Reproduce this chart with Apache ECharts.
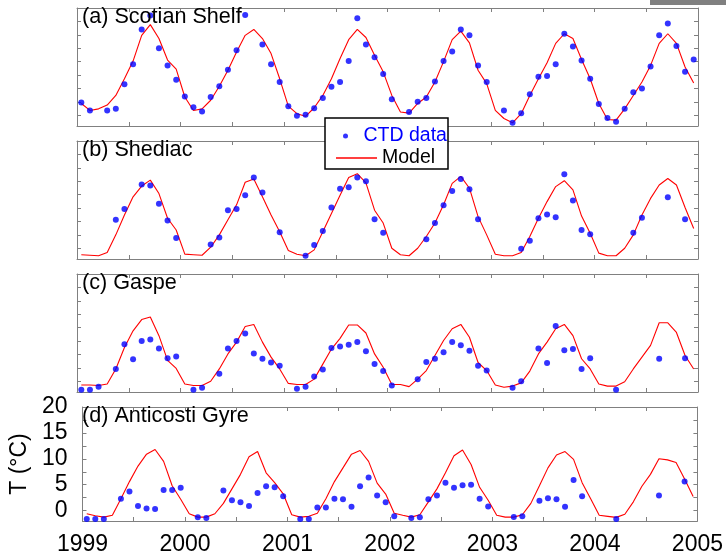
<!DOCTYPE html>
<html><head><meta charset="utf-8">
<script src="https://cdn.jsdelivr.net/npm/echarts@6/dist/echarts.min.js"></script>
<style>html,body{margin:0;padding:0;background:#fff}#c{width:726px;height:556px}</style>
</head><body><div id="c"></div>
<script>
// ---- data (monthly values, Jan 1999 .. Dec 2004) ----
const startYear = 1999;
const panelTitles = ['(a) Scotian Shelf', '(b) Shediac', '(c) Gaspe', '(d) Anticosti Gyre'];
const xTickLabels = [1999, 2000, 2001, 2002, 2003, 2004, 2005];
const yTickLabels = [0, 5, 10, 15, 20];
const yMinorTicks = [0, 2.5, 5, 7.5, 10, 12.5, 15, 17.5, 20];

const modelScotian = [
  2.2, 0.9, 1.2, 1.9, 3.7, 6.8, 10.1, 14.9, 16.9, 14.3, 10.3, 8.6,
  3.4, 0.9, 1.2, 2.8, 5.4, 8.4, 11.8, 14.9, 16.0, 14.3, 11.5, 6.8,
  1.7, 0.3, -0.2, 1.4, 3.7, 6.8, 10.6, 14.1, 16.0, 14.5, 11.2, 8.1,
  3.7, 0.6, 0.4, 2.2, 3.4, 6.2, 10.0, 14.1, 15.7, 13.5, 8.4, 5.9,
  0.9, -0.6, -1.4, 0.3, 3.7, 6.8, 9.8, 13.4, 15.2, 14.3, 10.4, 6.8,
  2.2, -0.8, -0.9, 1.2, 3.7, 6.2, 9.3, 13.4, 15.2, 13.4, 9.0, 6.0
];
const ctdScotian = [
  2.4, 0.9, null, 0.9, 1.2, 5.8, 9.5, 16.0, 18.6, 12.5, 9.3, 6.6,
  3.5, 1.5, 0.7, 3.4, 5.4, 8.5, 12.1, 18.7, null, 13.2, 9.5, 6.2,
  1.7, -0.1, 0.1, 1.3, 3.2, 5.3, 6.2, 10.1, 18.1, 13.2, 10.8, 7.7,
  3.0, null, 0.6, 2.5, 3.2, 6.3, 10.1, 11.9, 16.0, 14.9, 9.3, 6.2,
  null, 0.9, -1.4, 0.4, 3.9, 7.2, 7.3, 9.5, 15.2, 12.8, 10.2, 6.8,
  2.1, -0.5, -1.2, 1.2, 4.3, 5.0, 9.1, 14.9, 17.1, 12.9, 8.1, 10.4
];
const modelShediac = [
  -1.2, -1.3, -1.4, -0.8, 2.5, 6.2, 9.6, 11.6, 12.7, 10.2, 5.6, 3.4,
  -1.1, -1.2, -1.3, 0.2, 2.5, 5.3, 8.1, 12.3, 12.9, 9.6, 6.2, 3.1,
  -0.4, -1.1, -1.4, -0.3, 3.1, 6.5, 9.9, 13.2, 13.9, 12.2, 7.1, 4.7,
  0.0, -1.2, -1.4, 0.0, 2.2, 4.7, 8.1, 12.1, 13.4, 11.2, 5.9, 2.5,
  -1.1, -1.4, -1.4, -0.8, 2.2, 5.6, 8.7, 11.5, 12.6, 10.9, 6.0, 2.8,
  -0.9, -1.4, -1.4, 0.0, 2.5, 6.2, 9.3, 11.8, 13.0, 11.8, 7.6, 3.7
];
const ctdShediac = [
  null, null, null, null, 5.3, 7.3, null, 11.9, 11.7, 8.3, 5.2, 1.9,
  null, null, null, 0.7, 2.0, 7.1, 7.3, 9.9, 13.2, 10.4, null, 3.0,
  null, null, -1.4, 0.6, 3.2, 7.6, 11.1, 11.4, 13.2, 12.5, 5.4, 2.9,
  null, null, null, null, 1.7, 4.7, 8.0, 10.7, 12.9, 11.0, 5.4, null,
  null, null, null, -0.1, 1.4, 5.6, 6.3, 5.8, 13.8, 8.9, 3.4, 2.6,
  null, null, null, null, 2.9, 5.7, null, null, 9.5, null, 5.4, null
];
const modelGaspe = [
  -0.7, -0.7, -0.8, -0.5, 2.3, 6.3, 9.4, 11.5, 12.0, 8.5, 3.9, 2.4,
  -0.5, -0.8, -0.8, 0.0, 2.3, 5.1, 7.3, 10.2, 10.6, 7.3, 4.5, 2.3,
  -0.4, -0.6, -0.6, 0.4, 3.2, 6.0, 8.0, 10.5, 10.5, 9.0, 5.1, 2.6,
  -0.6, -0.6, -1.0, 0.4, 2.0, 4.8, 7.6, 9.8, 10.6, 8.2, 3.5, 2.0,
  -0.7, -1.1, -0.9, -0.3, 1.9, 5.1, 7.3, 9.8, 10.6, 8.5, 4.2, 2.3,
  -0.5, -0.9, -0.9, -0.1, 2.3, 4.5, 6.7, 10.9, 10.9, 9.1, 4.8, 2.3
];
const ctdGaspe = [
  -1.6, -1.6, -1.0, null, 2.3, 6.9, 4.1, 7.5, 7.8, 6.1, 4.3, 4.6,
  null, -1.6, -1.2, null, 1.4, 6.1, 7.5, 8.9, 5.2, 4.2, 3.5, 2.9,
  null, -1.4, -1.0, 0.9, 2.2, 6.2, 6.5, 6.8, 7.3, 5.6, 3.2, 1.9,
  -0.8, null, null, 0.4, 3.6, 4.2, 5.4, 7.3, 6.7, 5.7, 2.9, 2.0,
  null, null, -1.2, 0.0, null, 6.1, 3.4, 10.3, 5.8, 6.0, 2.3, 4.3,
  null, null, -1.6, null, null, null, null, 4.2, null, null, 4.3, null
];
const modelAnticosti = [
  -0.6, -1.0, -1.25, -0.9, 2.3, 5.6, 8.6, 10.9, 11.8, 9.5, 4.8, 2.2,
  -0.6, -1.25, -1.25, -0.6, 1.4, 4.2, 7.0, 10.4, 11.4, 7.3, 5.4, 3.25,
  -0.8, -1.25, -1.1, -0.5, 2.3, 5.6, 8.25, 10.9, 11.6, 9.5, 5.3, 3.2,
  -0.5, -0.9, -1.25, -0.8, 1.7, 4.2, 7.3, 10.6, 11.7, 8.9, 4.5, 2.0,
  -0.9, -1.25, -1.25, -0.8, 1.4, 4.8, 8.25, 10.75, 11.4, 9.9, 5.4, 2.3,
  -0.9, -1.1, -1.3, -0.7, 1.7, 4.7, 7.0, 10.0, 9.8, 9.3, 6.1, 2.75
];
const ctdAnticosti = [
  -1.6, -1.6, -1.6, null, 2.3, 3.7, 0.9, 0.4, 0.3, 4.0, 4.0, 4.4,
  null, -1.3, -1.4, null, 3.9, 2.0, 1.6, 0.9, 3.4, 4.7, 4.5, 2.8,
  null, -1.6, -1.6, 0.6, 0.6, 2.3, 2.2, 0.75, 4.7, 6.4, 2.9, 1.6,
  -1.1, null, -1.4, -1.3, 2.2, 2.9, 5.4, 4.4, 4.9, 5.0, 2.3, 0.8,
  null, null, -1.25, -1.1, null, 1.9, 2.4, 2.2, 0.75, 5.9, 2.8, null,
  null, null, -1.6, null, null, null, null, 2.9, null, null, 5.6, null
];

const models = [modelScotian, modelShediac, modelGaspe, modelAnticosti];
const ctds = [ctdScotian, ctdShediac, ctdGaspe, ctdAnticosti];

// ---- layout ----
const FONT = '"Liberation Sans", Arial, Helvetica, sans-serif';
const frameColor = '#808080';
const gridLeft = 77, gridRight = 28, gridH = 118;
const gridTops = [8, 141, 274, 407];
const monthX = i => startYear + (i + 0.5) / 12;

const grids = [], xAxes = [], yAxes = [], series = [], titles = [];
gridTops.forEach((top, g) => {
  const isBottom = g === 3;
  grids.push({left: gridLeft, right: gridRight, top: top, height: gridH, containLabel: false});
  const xBase = {
    type: 'value', gridIndex: g, min: xTickLabels[0], max: xTickLabels[xTickLabels.length - 1], interval: 0.5,
    splitLine: {show: false},
    axisLine: {show: true, onZero: false, lineStyle: {color: frameColor, width: 1}},
    axisTick: {show: true, inside: true, length: 4, lineStyle: {color: frameColor}}
  };
  xAxes.push(Object.assign({}, xBase, {
    position: 'bottom',
    axisLabel: {show: isBottom, margin: 12, color: '#000', fontSize: 23, fontFamily: FONT,
      formatter: v => (xTickLabels.indexOf(v) >= 0 ? String(v) : '')}
  }));
  xAxes.push(Object.assign({}, xBase, {position: 'top', axisLabel: {show: false}}));
  const yBase = {
    type: 'value', gridIndex: g, min: -2, max: 20,
    splitLine: {show: false},
    axisLine: {show: true, onZero: false, lineStyle: {color: frameColor, width: 1}},
    axisTick: {show: true, inside: true, length: 4, customValues: yMinorTicks, lineStyle: {color: frameColor}}
  };
  yAxes.push(Object.assign({}, yBase, {
    position: 'left',
    axisLabel: {show: isBottom, customValues: yTickLabels, margin: 15, color: '#000', fontSize: 23, fontFamily: FONT},
    name: isBottom ? 'T (°C)' : '', nameLocation: 'middle', nameRotate: 90, nameGap: 41,
    nameTextStyle: {color: '#000', fontSize: 23, fontFamily: FONT}
  }));
  yAxes.push(Object.assign({}, yBase, {position: 'right', axisLabel: {show: false}}));

  series.push({
    type: 'line', name: 'Model', xAxisIndex: 2 * g, yAxisIndex: 2 * g,
    data: models[g].map((v, i) => [monthX(i), v]),
    symbol: 'none', showSymbol: false, clip: false,
    lineStyle: {color: '#ff0000', width: 1.1}, itemStyle: {color: '#ff0000'}, z: 2
  });
  series.push({
    type: 'scatter', name: 'CTD data', xAxisIndex: 2 * g, yAxisIndex: 2 * g,
    data: ctds[g].map((v, i) => (v === null ? null : [monthX(i), v])).filter(d => d !== null),
    symbol: 'circle', symbolSize: 6, clip: false,
    itemStyle: {color: '#0000ff'}, z: 3
  });
  titles.push({
    text: panelTitles[g], left: 82, top: top - 2, padding: 0,
    textStyle: {fontSize: 21.6, fontWeight: 'normal', color: '#000', fontFamily: FONT}
  });
});

const chart = echarts.init(document.getElementById('c'), null, {renderer: 'canvas'});
chart.setOption({
  animation: false,
  backgroundColor: '#fff',
  title: titles,
  grid: grids,
  xAxis: xAxes,
  yAxis: yAxes,
  legend: [
    {data: ['CTD data'], left: 343, top: 126, orient: 'vertical', padding: 0, icon: 'circle',
     itemWidth: 26, itemHeight: 5, selectedMode: false,
     textStyle: {color: '#0000ff', fontSize: 19.5, fontFamily: FONT}},
    {data: ['Model'], left: 336, top: 148, orient: 'vertical', padding: 0, icon: 'rect',
     itemWidth: 41, itemHeight: 1.5, selectedMode: false,
     itemStyle: {color: '#ff0000', borderWidth: 0},
     textStyle: {color: '#000', fontSize: 19.5, fontFamily: FONT}}
  ],
  graphic: [
    {type: 'rect', shape: {x: 650, y: 0, width: 76, height: 5}, style: {fill: '#808080'}, z: 1},
    {type: 'rect', shape: {x: 325, y: 118, width: 123, height: 51}, style: {fill: '#fff', stroke: '#000', lineWidth: 1.5}, z: 3}
  ],
  series: series
});
</script>
</body></html>
